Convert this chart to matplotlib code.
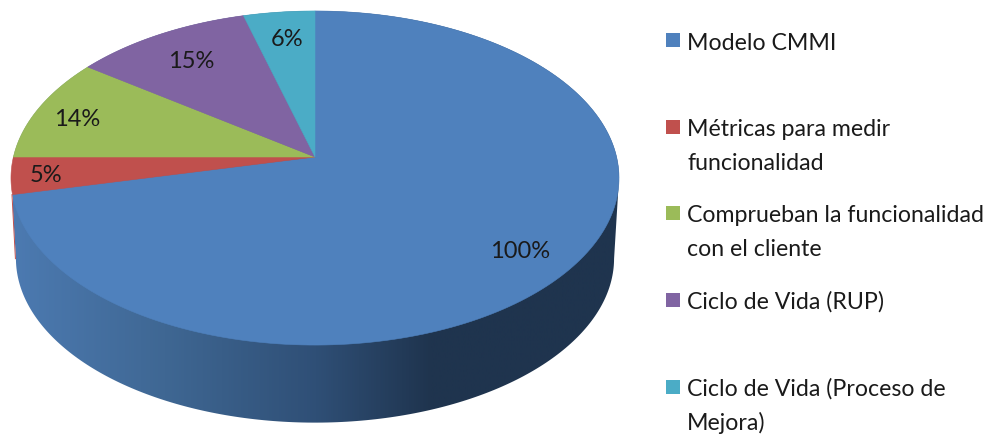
import numpy as np
import matplotlib
matplotlib.use("Agg")
import matplotlib.pyplot as plt
from matplotlib.colors import LinearSegmentedColormap
from matplotlib.patches import PathPatch
from matplotlib.path import Path

CATEGORIES = [
    "Modelo CMMI",
    "Métricas para medir\nfuncionalidad",
    "Comprueban la funcionalidad\ncon el cliente",
    "Ciclo de Vida (RUP)",
    "Ciclo de Vida (Proceso de\nMejora)",
]
VALUES = [100, 5, 14, 15, 6]
COLORS = ["#4f81bd", "#c0504d", "#9bbb59", "#8064a2", "#4bacc6"]

# layout, in pixels from the top left corner
LABEL_X = [520, 46, 77, 191, 287]
LABEL_Y = [251, 176, 119, 62, 40]
LEGEND_Y = [41, 128, 214, 301, 388]
BASELINE_Y = [50, 136, 222, 309, 396]
LINE_GAP = 34.5

CENTER_X = 315
CENTER_Y = 158
RADIUS_X = 301.6
RADIUS_Y = 164.4
TILT = 0.1258
BASE_SCALE = 0.984
DEPTH = 81

WALL_STOPS = [
    (0.00, "#4c7ab1"),
    (0.25, "#3f6793"),
    (0.50, "#2f4f76"),
    (0.69, "#1f344e"),
    (1.00, "#1f344e"),
]


def project(clock_deg, r=1.0, dy=0.0):
    # perspective view of a flat disc, angle measured clockwise from 12 o'clock
    t = np.radians(clock_deg)
    x = r * np.sin(t)
    y = r * np.cos(t)
    w = 1 + TILT * y
    return CENTER_X + RADIUS_X * x / w, CENTER_Y - RADIUS_Y * y / w + dy


plt.rcParams["font.family"] = ["Lato", "DejaVu Sans"]

fig = plt.figure(figsize=(9.89, 4.35), dpi=100)
ax = fig.add_axes([0, 0, 1, 1])
ax.set_xlim(0, 989)
ax.set_ylim(435, 0)
ax.axis("off")

# side wall runs between the widest points of the two outlines
side = np.degrees(np.arcsin(TILT))
base_x, base_y = project(np.linspace(90 + side, 270 - side, 200), BASE_SCALE, DEPTH)
rim_x, rim_y = project(np.linspace(270 - side, 450 + side, 200))
wall = np.column_stack([np.r_[base_x, rim_x], np.r_[base_y, rim_y]])
wall_patch = PathPatch(Path(np.vstack([wall, wall[0]]), closed=True), fc="none", ec="none")
ax.add_patch(wall_patch)
wall_cmap = LinearSegmentedColormap.from_list("wall", WALL_STOPS)
img = ax.imshow(np.linspace(0, 1, 512)[None, :], cmap=wall_cmap, aspect="auto",
                extent=[13, 620, 435, 0], zorder=1)
img.set_clip_path(wall_patch)
ax.set_xlim(0, 989)
ax.set_ylim(435, 0)

# top face
edges = np.cumsum([0] + VALUES) / sum(VALUES) * 360
for i in range(len(VALUES)):
    arc_x, arc_y = project(np.linspace(edges[i], edges[i + 1], 200))
    ax.fill(np.r_[CENTER_X, arc_x], np.r_[CENTER_Y, arc_y], color=COLORS[i], lw=0.4, zorder=2)

# sliver of the red slice showing on the wall
edge_x, edge_y = project(np.array([edges[1]]))
low_x, low_y = project(np.array([270 - side]), BASE_SCALE, DEPTH)
ax.plot([edge_x[0] - 0.5, low_x[0] - 0.5], [edge_y[0], low_y[0]], color=COLORS[1], lw=0.7, zorder=2)

for v, x, y in zip(VALUES, LABEL_X, LABEL_Y):
    ax.text(x, y, f"{v}%", fontsize=17, color="#1a1a1a", ha="center", va="center", zorder=3)

# legend
ax.scatter([673] * len(COLORS), LEGEND_Y, marker="s", s=108, c=COLORS, linewidths=0, zorder=3)
for name, y in zip(CATEGORIES, BASELINE_Y):
    for j, line in enumerate(name.split("\n")):
        ax.text(687, y + j * LINE_GAP, line, fontsize=16.7, color="#1a1a1a",
                ha="left", va="baseline", zorder=3)

fig.savefig("out.png", dpi=100, facecolor="white")
